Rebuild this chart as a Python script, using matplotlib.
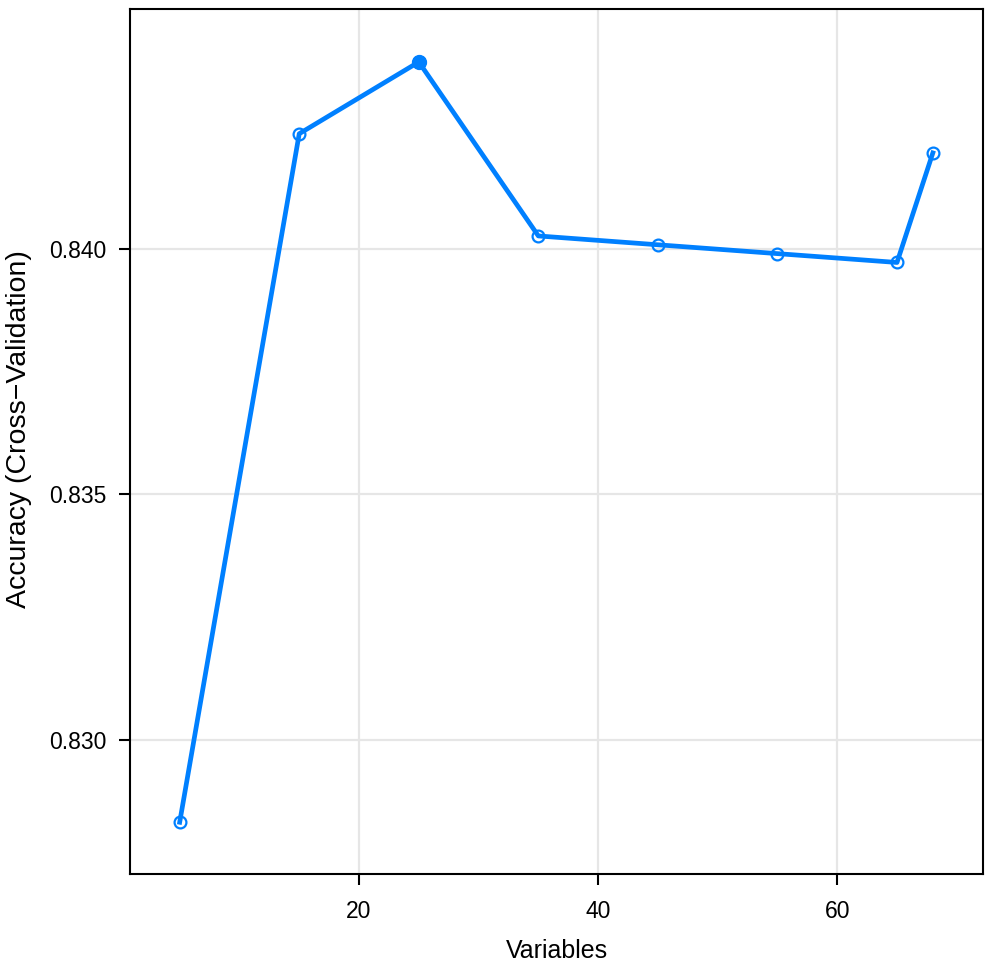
import numpy as np
import matplotlib.pyplot as plt

plt.rcParams['font.family'] = ['Liberation Sans', 'DejaVu Sans']

# Recursive feature elimination results
variables = [5, 15, 25, 35, 45, 55, 65, 68]
accuracy = [0.82833, 0.84234, 0.84380, 0.84026, 0.84008, 0.83990, 0.83972, 0.84195]
best_index = 2

x_ticks = [20, 40, 60]
y_ticks = [0.830, 0.835, 0.840]

blue = '#0080ff'

fig = plt.figure(figsize=(9.92, 9.66), dpi=100)
ax = fig.add_axes([0.131, 0.0952, 0.86, 0.8955])

for xt in x_ticks:
    ax.axvline(xt, color='#e6e6e6', lw=1.6, zorder=0)
for yt in y_ticks:
    ax.axhline(yt, color='#e6e6e6', lw=1.6, zorder=0)

ax.plot(variables, accuracy, color=blue, lw=3.4, marker='o', markersize=8.5,
        markerfacecolor='none', markeredgecolor=blue, markeredgewidth=1.6, zorder=3)
ax.plot(variables[best_index], accuracy[best_index], 'o', color=blue,
        markersize=10, zorder=4)

ax.set_xlim(0.84, 72.2)
ax.set_ylim(0.827276, 0.844878)
ax.set_xticks(x_ticks)
ax.set_yticks(y_ticks)
ax.set_yticklabels(['%.3f' % v for v in y_ticks])
ax.tick_params(direction='out', length=8, width=1.5, labelsize=16.5, pad=9)
ax.tick_params(axis='x', pad=11)

for s in ax.spines.values():
    s.set_linewidth(1.5)

ax.set_xlabel('Variables', fontsize=18, labelpad=11)
ax.set_ylabel('Accuracy (Cross\u2212Validation)', fontsize=20.5)
ax.yaxis.set_label_coords(-0.115, 0.514)

fig.savefig('out.png', dpi=100)
